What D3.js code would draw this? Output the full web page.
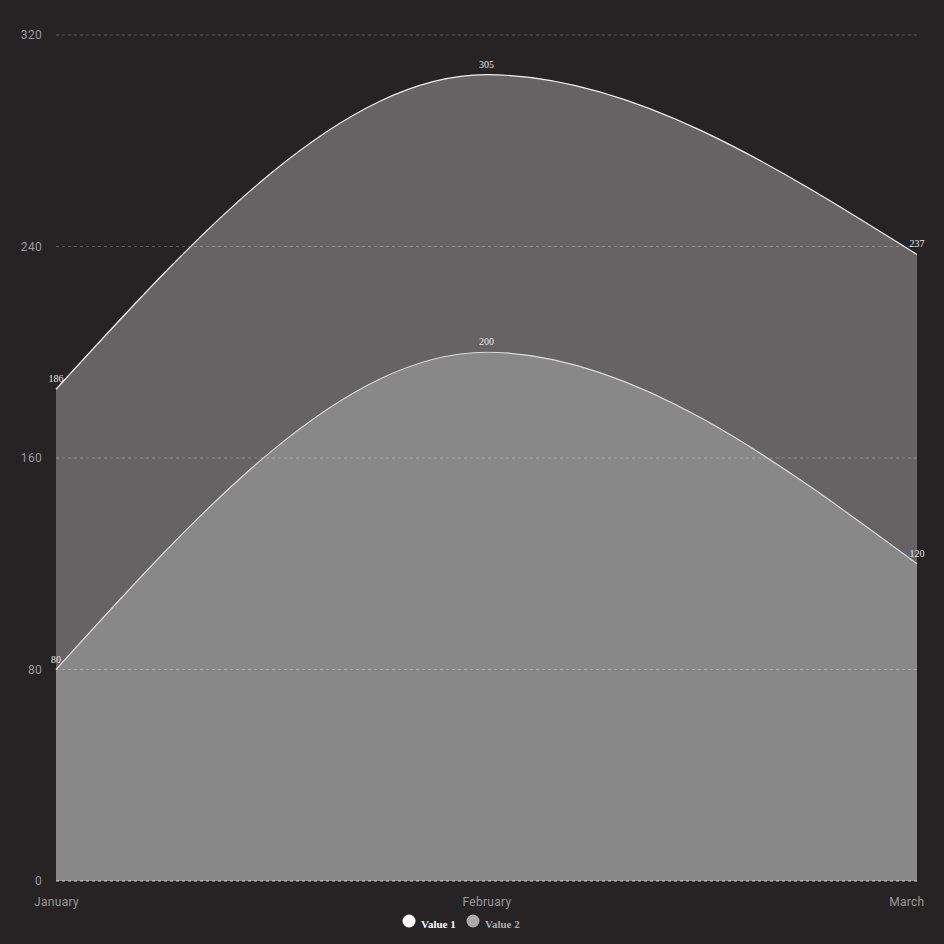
<!DOCTYPE html>
<html>
<head>
<meta charset="utf-8">
<script src="https://cdn.jsdelivr.net/npm/d3@7"></script>
<style>
  html, body { margin: 0; padding: 0; background: #252324; }
  svg { display: block; }
</style>
</head>
<body>
<div id="chart"></div>
<script>
// chart data
const months = ['January', 'February', 'March'];
const value1 = [186, 305, 237];
const value2 = [80, 200, 120];
const yTicks = [0, 80, 160, 240, 320];
const seriesNames = ['Value 1', 'Value 2'];

const W = 944, H = 944;
const margin = { top: 35, right: 27, bottom: 63, left: 56 };
const width = W - margin.left - margin.right;
const height = H - margin.top - margin.bottom;

const svg = d3.select('#chart')
    .append('svg')
    .attr('width', W)
    .attr('height', H);

svg.append('rect')
    .attr('width', W)
    .attr('height', H)
    .attr('fill', '#252324');

const g = svg.append('g')
    .attr('transform', `translate(${margin.left},${margin.top})`);

const x = d3.scalePoint()
    .domain(months)
    .range([0, width]);

const y = d3.scaleLinear()
    .domain([0, 320])
    .range([height, 0]);

const series = [
    { name: seriesNames[0], values: value1, fill: '#656363', stroke: '#f2f2f2' },
    { name: seriesNames[1], values: value2, fill: '#888888', stroke: '#d9d9d9' }
];

const area = d3.area()
    .x((d, i) => x(months[i]))
    .y0(y(0))
    .y1(d => y(d))
    .curve(d3.curveMonotoneX);

const line = d3.line()
    .x((d, i) => x(months[i]))
    .y(d => y(d))
    .curve(d3.curveMonotoneX);

series.forEach(s => {
    g.append('path')
        .datum(s.values)
        .attr('d', area)
        .attr('fill', s.fill);
});

// gridlines (drawn over the areas)
g.selectAll('.grid')
    .data(yTicks)
    .enter()
    .append('line')
    .attr('class', 'grid')
    .attr('x1', 0)
    .attr('x2', width)
    .attr('y1', d => y(d))
    .attr('y2', d => y(d))
    .attr('stroke', d => d === 0 ? 'rgba(255,255,255,0.7)' : 'rgba(255,255,255,0.25)')
    .attr('stroke-width', 1)
    .attr('stroke-dasharray', '3,3');

series.forEach(s => {
    g.append('path')
        .datum(s.values)
        .attr('d', line)
        .attr('fill', 'none')
        .attr('stroke', s.stroke)
        .attr('stroke-width', 1.2);
});

// y tick labels
const yAxis = g.append('g')
    .call(d3.axisLeft(y).tickValues(yTicks).tickSize(0).tickPadding(14));
yAxis.select('.domain').remove();
yAxis.selectAll('text')
    .attr('fill', '#9a9899')
    .style('font-family', 'Roboto, "Open Sans", sans-serif')
    .style('font-size', '12px')
    .style('letter-spacing', '0.3px');

// x tick labels
const xAxis = g.append('g')
    .attr('transform', `translate(0,${height})`)
    .call(d3.axisBottom(x).tickSize(0).tickPadding(16));
xAxis.select('.domain').remove();
xAxis.selectAll('text')
    .attr('fill', '#9a9899')
    .style('font-family', 'Roboto, "Open Sans", sans-serif')
    .style('font-size', '12px')
    .style('letter-spacing', '0.3px');
xAxis.selectAll('.tick:last-of-type text')
    .attr('text-anchor', 'end')
    .attr('dx', '7');

// value labels
series.forEach(s => {
    g.selectAll(null)
        .data(s.values)
        .enter()
        .append('text')
        .attr('x', (d, i) => x(months[i]))
        .attr('y', d => y(d) - 7)
        .attr('text-anchor', 'middle')
        .attr('fill', '#e6e6e6')
        .style('font-family', '"Liberation Serif", serif')
        .style('font-size', '10px')
        .text(d => d);
});

// legend
const legendColors = ['#ffffff', '#aaaaaa'];
const legend = svg.append('g')
    .attr('transform', 'translate(409,921)');
const items = legend.selectAll('g')
    .data(seriesNames)
    .enter()
    .append('g')
    .attr('transform', (d, i) => `translate(${i * 64},0)`);
items.append('circle')
    .attr('r', 6.5)
    .attr('fill', (d, i) => legendColors[i]);
items.append('text')
    .attr('x', 12)
    .attr('y', 7)
    .attr('fill', (d, i) => i === 0 ? '#ffffff' : '#aaaaaa')
    .style('font-family', '"Liberation Serif", serif')
    .style('font-weight', 'bold')
    .style('font-size', '11px')
    .text(d => d);
</script>
</body>
</html>
